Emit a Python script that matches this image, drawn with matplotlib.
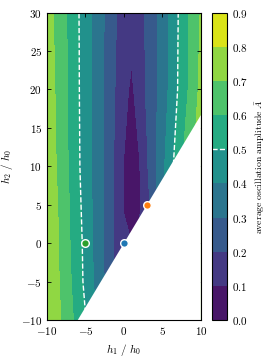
import numpy as np
import matplotlib
matplotlib.use("Agg")
import matplotlib.pyplot as plt
from matplotlib.ticker import FuncFormatter

plt.rcParams.update({
    "font.family": "serif",
    "font.serif": ["cmr10", "DejaVu Serif"],
    "mathtext.fontset": "cm",
    "font.size": 8,
})

# grid of the parameter plane (units of h0)
h1_grid = np.arange(-10, 11, 1)
h2_grid = [-10, -5, 0, 5, 10, 20, 25, 30]

# average oscillation amplitude, one row per h2 value
amp_h2_m10 = [0.806, 0.749, 0.688, 0.627, 0.565, 0.505, 0.425, 0.350, 0.280, 0.210, 0.160,
              0.140, 0.160, 0.220, 0.300, 0.380, 0.460, 0.540, 0.620, 0.700, 0.770]
amp_h2_m5 = [0.790, 0.737, 0.674, 0.610, 0.545, 0.478, 0.404, 0.332, 0.260, 0.190, 0.140,
             0.120, 0.140, 0.200, 0.280, 0.360, 0.440, 0.520, 0.600, 0.680, 0.750]
amp_h2_0 = [0.795, 0.733, 0.667, 0.600, 0.539, 0.472, 0.393, 0.322, 0.247, 0.170, 0.125,
            0.100, 0.120, 0.200, 0.280, 0.360, 0.440, 0.520, 0.600, 0.680, 0.750]
amp_h2_5 = [0.793, 0.727, 0.660, 0.594, 0.529, 0.461, 0.390, 0.322, 0.248, 0.170, 0.092,
            0.060, 0.085, 0.160, 0.270, 0.360, 0.450, 0.540, 0.620, 0.690, 0.760]
amp_h2_10 = [0.777, 0.713, 0.648, 0.584, 0.518, 0.453, 0.387, 0.321, 0.249, 0.173, 0.096,
             0.060, 0.093, 0.190, 0.282, 0.373, 0.464, 0.550, 0.630, 0.700, 0.770]
amp_h2_20 = [0.763, 0.702, 0.642, 0.579, 0.513, 0.450, 0.387, 0.321, 0.255, 0.189, 0.123,
             0.085, 0.144, 0.216, 0.277, 0.345, 0.420, 0.502, 0.575, 0.650, 0.727]
amp_h2_25 = [0.754, 0.696, 0.638, 0.577, 0.512, 0.449, 0.388, 0.324, 0.261, 0.196, 0.139,
             0.110, 0.152, 0.217, 0.277, 0.343, 0.416, 0.499, 0.573, 0.645, 0.717]
amp_h2_30 = [0.745, 0.689, 0.633, 0.574, 0.510, 0.448, 0.388, 0.327, 0.266, 0.203, 0.155,
             0.125, 0.160, 0.218, 0.276, 0.341, 0.412, 0.496, 0.570, 0.640, 0.707]

# region h2 < slope * h1 has no data
slope = 5 / 3

# highlighted parameter points
pts_h1 = [-5, 0, 3]
pts_h2 = [0, 0, 5]
pts_color = ["#2ca02c", "#1f77b4", "#ff7f0e"]

levels = np.round(np.arange(0, 0.91, 0.1), 1)

A = np.array([amp_h2_m10, amp_h2_m5, amp_h2_0, amp_h2_5, amp_h2_10,
              amp_h2_20, amp_h2_25, amp_h2_30])
H1, H2 = np.meshgrid(h1_grid, h2_grid)

fig = plt.figure(figsize=(2.70, 3.58), dpi=100)
ax = fig.add_axes([0.174, 0.106, 0.570, 0.859])
cax = fig.add_axes([0.784, 0.106, 0.058, 0.859])

cs = ax.contourf(H1, H2, A, levels=levels, cmap="viridis", zorder=1)
ax.contour(H1, H2, A, levels=[0.5], colors="white", linestyles="--",
           linewidths=1.0, zorder=2)

xmin, xmax, ymin, ymax = -10, 10, -10, 30
ax.fill([ymin / slope, xmax, xmax], [ymin, slope * xmax, ymin],
        color="white", lw=0, zorder=2.2)

for x, y, c in zip(pts_h1, pts_h2, pts_color):
    ax.plot(x, y, "o", ms=5.5, mfc=c, mec="white", mew=1.0, zorder=3, clip_on=False)

# all text through mathtext so it comes out in Computer Modern
int_fmt = FuncFormatter(lambda v, p: "$%d$" % v)
ax.set_xlim(xmin, xmax)
ax.set_ylim(ymin, ymax)
ax.set_xticks([-10, -5, 0, 5, 10])
ax.set_yticks(np.arange(-10, 31, 5))
ax.xaxis.set_major_formatter(int_fmt)
ax.yaxis.set_major_formatter(int_fmt)
ax.tick_params(direction="in", top=True, right=True, length=3, width=0.6,
               labelsize=8)
ax.set_xlabel("$h_1\\ /\\ h_0$")
ax.set_ylabel("$h_2\\ /\\ h_0$")

cbar = fig.colorbar(cs, cax=cax, ticks=levels)
cbar.ax.set_yticklabels(["$%.1f$" % l for l in levels])
cbar.ax.tick_params(direction="in", length=0, labelsize=8)
cbar.ax.axhline(0.5, color="white", ls="--", lw=1.0)
cbar.set_label(r"$\mathrm{average\ oscillation\ amplitude}\ \bar{A}$", fontsize=7)

fig.savefig("out.png", dpi=100)
